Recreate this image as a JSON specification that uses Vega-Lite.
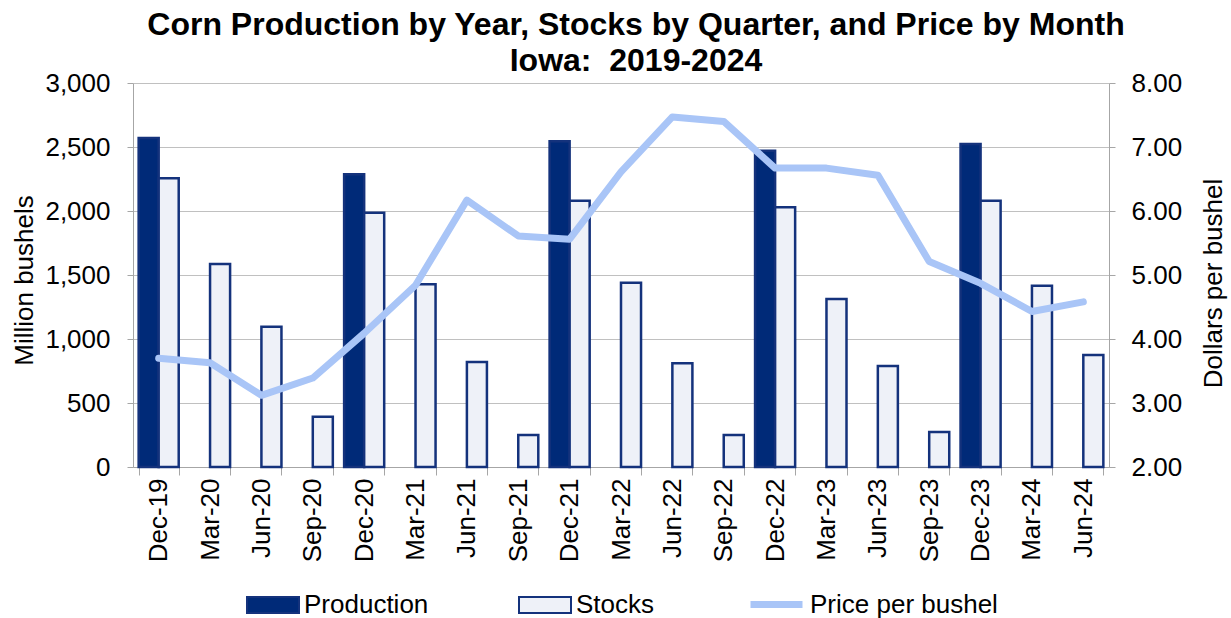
{
  "$schema": "https://vega.github.io/schema/vega-lite/v6.json",
  "autosize": "none",
  "width": 976,
  "height": 384,
  "padding": {"left": 133, "top": 83, "right": 122, "bottom": 151},
  "background": "#ffffff",
  "title": {
    "text": ["Corn Production by Year, Stocks by Quarter, and Price by Month", "Iowa:\u00a0 2019-2024"],
    "font": "Liberation Sans",
    "fontSize": 32,
    "fontWeight": "bold",
    "lineHeight": 36,
    "color": "#000000",
    "anchor": "middle",
    "offset": -8,
    "dx": 15
  },
  "datasets": {
    "bars": [
      {"q": "Dec-19", "series": "Production", "value": 2570},
      {"q": "Dec-19", "series": "Stocks", "value": 2255},
      {"q": "Mar-20", "series": "Stocks", "value": 1586},
      {"q": "Jun-20", "series": "Stocks", "value": 1096},
      {"q": "Sep-20", "series": "Stocks", "value": 393},
      {"q": "Dec-20", "series": "Production", "value": 2288},
      {"q": "Dec-20", "series": "Stocks", "value": 1987},
      {"q": "Mar-21", "series": "Stocks", "value": 1427},
      {"q": "Jun-21", "series": "Stocks", "value": 820},
      {"q": "Sep-21", "series": "Stocks", "value": 250},
      {"q": "Dec-21", "series": "Production", "value": 2545},
      {"q": "Dec-21", "series": "Stocks", "value": 2081},
      {"q": "Mar-22", "series": "Stocks", "value": 1440},
      {"q": "Jun-22", "series": "Stocks", "value": 810},
      {"q": "Sep-22", "series": "Stocks", "value": 250},
      {"q": "Dec-22", "series": "Production", "value": 2471},
      {"q": "Dec-22", "series": "Stocks", "value": 2029},
      {"q": "Mar-23", "series": "Stocks", "value": 1312},
      {"q": "Jun-23", "series": "Stocks", "value": 789},
      {"q": "Sep-23", "series": "Stocks", "value": 273},
      {"q": "Dec-23", "series": "Production", "value": 2523},
      {"q": "Dec-23", "series": "Stocks", "value": 2081},
      {"q": "Mar-24", "series": "Stocks", "value": 1416},
      {"q": "Jun-24", "series": "Stocks", "value": 875}
    ],
    "price": [
      {"q": "Dec-19", "price": 3.70},
      {"q": "Mar-20", "price": 3.63},
      {"q": "Jun-20", "price": 3.12},
      {"q": "Sep-20", "price": 3.39},
      {"q": "Dec-20", "price": 4.09},
      {"q": "Mar-21", "price": 4.84},
      {"q": "Jun-21", "price": 6.17},
      {"q": "Sep-21", "price": 5.61},
      {"q": "Dec-21", "price": 5.56},
      {"q": "Mar-22", "price": 6.61},
      {"q": "Jun-22", "price": 7.47},
      {"q": "Sep-22", "price": 7.40},
      {"q": "Dec-22", "price": 6.67},
      {"q": "Mar-23", "price": 6.67},
      {"q": "Jun-23", "price": 6.56},
      {"q": "Sep-23", "price": 5.21},
      {"q": "Dec-23", "price": 4.87},
      {"q": "Mar-24", "price": 4.43},
      {"q": "Jun-24", "price": 4.58}
    ]
  },
  "config": {
    "view": {"stroke": null},
    "axis": {
      "labelFont": "Liberation Sans",
      "labelFontSize": 26,
      "labelColor": "#000000",
      "titleFont": "Liberation Sans",
      "titleFontSize": 26,
      "titleFontWeight": "normal",
      "titleColor": "#000000",
      "domainColor": "#a6a6a6",
      "tickColor": "#a6a6a6",
      "gridColor": "#c0c0c0"
    },
    "legend": {
      "labelFont": "Liberation Sans",
      "labelFontSize": 26,
      "labelColor": "#000000",
      "labelLimit": 400
    }
  },
  "encoding": {
    "x": {
      "field": "q",
      "type": "ordinal",
      "scale": {
        "domain": ["Dec-19", "Mar-20", "Jun-20", "Sep-20", "Dec-20", "Mar-21", "Jun-21", "Sep-21", "Dec-21", "Mar-22", "Jun-22", "Sep-22", "Dec-22", "Mar-23", "Jun-23", "Sep-23", "Dec-23", "Mar-24", "Jun-24"],
        "paddingInner": 0.22,
        "paddingOuter": 0.11
      },
      "axis": {
        "title": null,
        "labelAngle": -90,
        "labelPadding": 3,
        "tickSize": 8,
        "tickBand": "extent",
        "grid": false
      }
    }
  },
  "layer": [
    {
      "data": {"name": "bars"},
      "mark": {"type": "bar", "stroke": "#14327c", "strokeWidth": 2.5},
      "encoding": {
        "xOffset": {"field": "series", "type": "nominal", "scale": {"domain": ["Production", "Stocks"], "paddingInner": 0}},
        "y": {
          "field": "value",
          "type": "quantitative",
          "scale": {"domain": [0, 3000]},
          "axis": {
            "title": "Million bushels",
            "values": [0, 500, 1000, 1500, 2000, 2500, 3000],
            "format": ",.0f",
            "tickSize": 6,
            "labelPadding": 17,
            "grid": true,
            "titleAngle": 270,
            "titleX": -109,
            "titleY": 197,
            "titleAlign": "center",
            "titleBaseline": "middle"
          }
        },
        "fill": {
          "field": "series",
          "type": "nominal",
          "scale": {"domain": ["Production", "Stocks"], "range": ["#002a78", "#eef1f8"]},
          "legend": {
            "orient": "none",
            "legendX": 113,
            "legendY": 495,
            "direction": "horizontal",
            "title": null,
            "symbolType": "M-1,-0.31H1V0.31H-1Z",
            "symbolSize": 2704,
            "symbolStrokeColor": "#14327c",
            "symbolStrokeWidth": 2,
            "symbolOpacity": 1,
            "columnPadding": 86,
            "labelOffset": 4
          }
        }
      }
    },
    {
      "data": {"name": "price"},
      "mark": {"type": "line", "strokeWidth": 7, "strokeCap": "round", "strokeJoin": "round"},
      "encoding": {
        "y": {
          "field": "price",
          "type": "quantitative",
          "scale": {"domain": [2, 8]},
          "axis": {
            "orient": "right",
            "title": "Dollars per bushel",
            "values": [2, 3, 4, 5, 6, 7, 8],
            "format": ".2f",
            "tickSize": 6,
            "labelPadding": 16,
            "grid": false,
            "titleAngle": 270,
            "titleX": 104,
            "titleY": 200,
            "titleAlign": "center",
            "titleBaseline": "middle"
          }
        },
        "stroke": {
          "datum": "Price per bushel",
          "type": "nominal",
          "scale": {"domain": ["Price per bushel"], "range": ["#a9c5f7"]},
          "legend": {
            "orient": "none",
            "legendX": 614,
            "legendY": 492,
            "direction": "horizontal",
            "title": null,
            "symbolType": "M-1,0H1",
            "symbolSize": 2704,
            "symbolStrokeWidth": 7,
            "symbolOpacity": 1,
            "labelOffset": 4
          }
        }
      }
    }
  ],
  "resolve": {"scale": {"y": "independent"}}
}
